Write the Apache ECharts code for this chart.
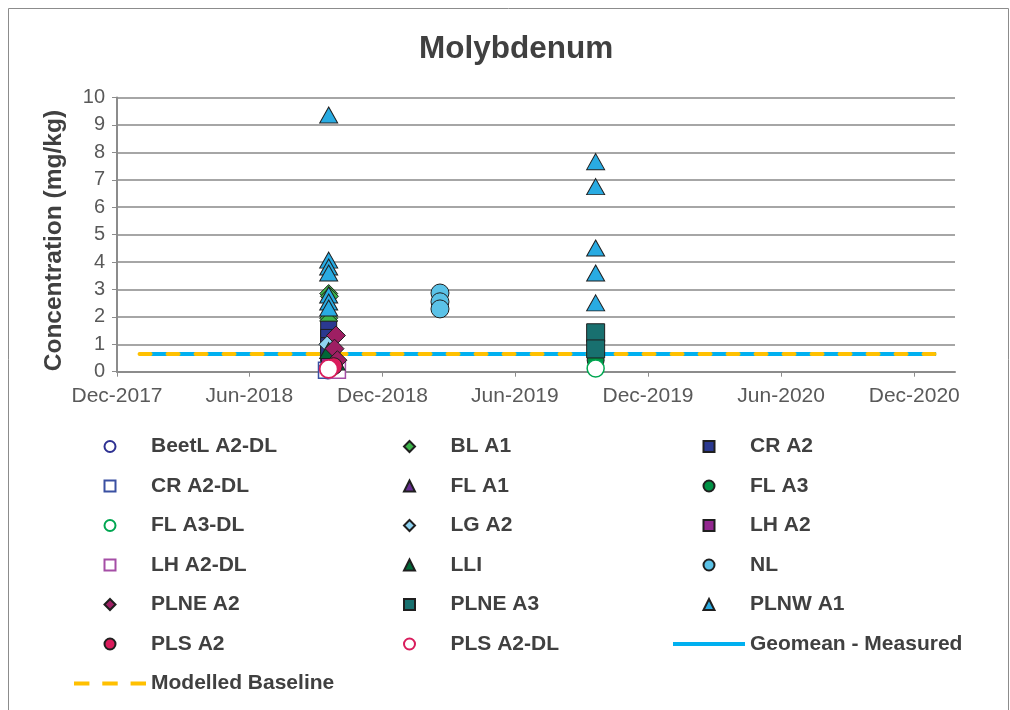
<!DOCTYPE html>
<html>
<head>
<meta charset="utf-8">
<script src="https://cdn.jsdelivr.net/npm/echarts@6/dist/echarts.min.js"></script>
<style>
html,body{margin:0;padding:0;background:#fff;}
#chart{width:1010px;height:710px;}
</style>
</head>
<body>
<div id="chart"></div>
<script>
// ---- Data ----
const xTickDates = ['2017-12-01','2018-06-01','2018-12-01','2019-06-01','2019-12-01','2020-06-01','2020-12-01'];
const xAxisMin = '2017-12-01';
const xAxisMax = '2021-01-26';
const yTicks = [0,1,2,3,4,5,6,7,8,9,10];

const beetlA2DL = [['2018-09-17', 0.05]];
const blA1      = [['2018-09-18', 2.85], ['2018-09-19', 2.75], ['2018-09-18', 1.95], ['2018-09-18', 1.85]];
const crA2      = [['2018-09-18', 1.55], ['2018-09-18', 1.25], ['2018-09-18', 0.95], ['2018-09-18', 0.65]];
const crA2DL    = [['2018-09-15', 0.05]];
const flA1      = [['2018-09-18', 0.5]];
const flA3      = [['2019-09-20', 0.42]];
const flA3DL    = [['2019-09-20', 0.12]];
const lgA2      = [['2018-09-17', 1.0]];
const lhA2      = [['2018-09-19', 0.3]];
const lhA2DL    = [['2018-09-30', 0.05]];
const lli       = [['2018-09-18', 0.77], ['2018-09-28', 0.35]];
const nl        = [['2019-02-18', 2.87], ['2019-02-18', 2.55], ['2019-02-18', 2.29]];
const plneA2    = [['2018-09-28', 1.32], ['2018-09-26', 0.84], ['2018-09-30', 0.42]];
const plneA3    = [['2019-09-20', 1.42], ['2019-09-20', 0.83]];
const plnwA1    = [['2018-09-18', 9.36], ['2018-09-18', 4.07], ['2018-09-18', 3.82], ['2018-09-18', 3.60],
                   ['2018-09-18', 2.80], ['2018-09-18', 2.54], ['2018-09-18', 2.32],
                   ['2019-09-20', 7.66], ['2019-09-20', 6.75], ['2019-09-20', 4.51], ['2019-09-20', 3.60], ['2019-09-20', 2.51]];
const plsA2     = [['2018-09-25', 0.2]];
const plsA2DL   = [['2018-09-18', 0.1]];
const geomeanMeasured  = [['2018-01-01', 0.65], ['2020-12-31', 0.65]];
const modelledBaseline = [['2018-01-01', 0.65], ['2020-12-31', 0.65]];

// ---- helpers ----
const MONTHS = ['Jan','Feb','Mar','Apr','May','Jun','Jul','Aug','Sep','Oct','Nov','Dec'];
const DAY = 86400000;
function parseDate(s){ const p = s.split('-').map(Number); return Date.UTC(p[0], p[1]-1, p[2]); }
function fmtDate(v){ const d = new Date(v + 15*DAY); return MONTHS[d.getUTCMonth()] + '-' + d.getUTCFullYear(); }
const toXY = arr => arr.map(d => [parseDate(d[0]), d[1]]);

const FONT = '"Liberation Sans", Arial, sans-serif';
const OUT = '#1f1f1f';

// legend icons (kept square so they are not stretched to the legend item width)
const ICONS = {
  circle: 'circle',
  rect: 'path://M0,0h10v10h-10z',
  diamond: 'path://M5,0L10,5L5,10L0,5z',
  triangle: 'path://M5,0L10,10L0,10z'
};
const legendIconOf = {};

function scatter(name, data, symbol, size, fill, border, bw){
  legendIconOf[name] = ICONS[symbol];
  return {
    name, type:'scatter', data: toXY(data), symbol, symbolSize: size, z: 3,
    itemStyle: { color: fill, borderColor: border, borderWidth: bw, opacity: 1 },
    emphasis: { disabled: true }
  };
}

const series = [
  scatter('BeetL A2-DL', beetlA2DL, 'circle', 17, '#ffffff', '#2e3192', 1.5),
  scatter('BL A1', blA1, 'diamond', 18, '#3db54a', OUT, 1),
  scatter('CR A2', crA2, 'rect', 16, '#2b3990', OUT, 1),
  scatter('CR A2-DL', crA2DL, 'rect', 16, '#ffffff', '#3a50a2', 1.5),
  scatter('FL A1', flA1, 'triangle', [18,16], '#662d91', OUT, 1),
  scatter('FL A3', flA3, 'circle', 17, '#009245', OUT, 1),
  scatter('FL A3-DL', flA3DL, 'circle', 17, '#ffffff', '#00a651', 1.5),
  scatter('LG A2', lgA2, 'diamond', 18, '#8fd3f1', OUT, 1),
  scatter('LH A2', lhA2, 'rect', 16, '#92278f', OUT, 1),
  scatter('LH A2-DL', lhA2DL, 'rect', 16, '#ffffff', '#a54ea6', 1.5),
  scatter('LLI', lli, 'triangle', [18,16], '#006838', OUT, 1),
  scatter('NL', nl, 'circle', 18, '#5bc2e7', OUT, 1),
  scatter('PLNE A2', plneA2, 'diamond', 19, '#9e1f63', OUT, 1),
  scatter('PLNE A3', plneA3, 'rect', 18, '#18706f', OUT, 1),
  scatter('PLNW A1', plnwA1, 'triangle', [18,16], '#29abe2', OUT, 1),
  scatter('PLS A2', plsA2, 'circle', 17, '#da1c5c', OUT, 1),
  scatter('PLS A2-DL', plsA2DL, 'circle', 18, '#ffffff', '#d91c5c', 1.8),
  {
    name:'Geomean - Measured', type:'line', data: toXY(geomeanMeasured), symbol:'none', z:1,
    lineStyle:{ color:'#00b0f0', width:4 }, itemStyle:{ color:'#00b0f0' }, emphasis:{disabled:true}
  },
  {
    name:'Modelled Baseline', type:'line', data: toXY(modelledBaseline), symbol:'none', z:1,
    lineStyle:{ color:'#ffc000', width:4, type:[11,17], cap:'round' }, itemStyle:{ color:'#ffc000' }, emphasis:{disabled:true}
  }
];

const SOLID_ICON  = 'path://M0,0h70v4h-70z';
const DASHED_ICON = 'path://M0,0h15v4h-15z M27.5,0h15v4h-15z M55,0h15v4h-15z';

function legendCol(left, names){
  return {
    orient:'vertical', left, top: 431, itemWidth: 72, itemHeight: 11, itemGap: 18.5,
    symbolKeepAspect: true,
    data: names.map(n => {
      if (n === 'Geomean - Measured') return { name: n, icon: SOLID_ICON, itemStyle: { color: '#00b0f0', borderWidth: 0 } };
      if (n === 'Modelled Baseline') return { name: n, icon: DASHED_ICON, itemStyle: { color: '#ffc000', borderWidth: 0 } };
      return { name: n, icon: legendIconOf[n] };
    }),
    selectedMode: false,
    textStyle:{ fontFamily: FONT, fontSize: 21, fontWeight:'bold', color:'#404040' }
  };
}

const chart = echarts.init(document.getElementById('chart'), null, {renderer:'canvas'});
chart.setOption({
  animation: false,
  backgroundColor: '#ffffff',
  textStyle: { fontFamily: FONT },
  title: {
    text: 'Molybdenum', left: 414, top: 28,
    textStyle: { fontFamily: FONT, fontSize: 31.5, fontWeight: 'bold', color: '#404040' }
  },
  graphic: [{
    type:'rect', shape:{ x:8.5, y:8.5, width:1000, height:720 },
    style:{ fill:'none', stroke:'#8c8c8c', lineWidth:1 }, silent:true
  }],
  legend: [
    legendCol(69,  ['BeetL A2-DL','CR A2-DL','FL A3-DL','LH A2-DL','PLNE A2','PLS A2','Modelled Baseline']),
    // this column has only marker icons, so its box starts at the marker's left edge
    legendCol(398, ['BL A1','FL A1','LG A2','LLI','PLNE A3','PLS A2-DL']),
    legendCol(668, ['CR A2','FL A3','LH A2','NL','PLNW A1','Geomean - Measured'])
  ],
  grid: { left: 117, right: 55, top: 97.5, bottom: 338.3 },
  xAxis: {
    type: 'value', min: parseDate(xAxisMin), max: parseDate(xAxisMax),
    axisLine: { show: true, lineStyle: { color: '#8c8c8c', width: 2 } },
    axisTick: { show: true, length: 5, customValues: xTickDates.map(parseDate), lineStyle: { color: '#8c8c8c', width: 1 } },
    axisLabel: { customValues: xTickDates.map(parseDate), formatter: fmtDate, fontSize: 21, color: '#595959', margin: 14, fontFamily: FONT },
    splitLine: { show: false }
  },
  yAxis: {
    type: 'value', min: yTicks[0], max: yTicks[yTicks.length-1], interval: 1,
    name: 'Concentration (mg/kg)', nameLocation: 'middle', nameRotate: 90, nameGap: 50,
    nameTextStyle: { fontFamily: FONT, fontSize: 24.5, fontWeight: 'bold', color: '#404040', padding: [0, 12, 0, 0] },
    axisLine: { show: true, lineStyle: { color: '#8c8c8c', width: 2 } },
    axisTick: { show: true, length: 5, lineStyle: { color: '#8c8c8c', width: 1 } },
    axisLabel: { fontSize: 20, color: '#595959', margin: 12, fontFamily: FONT },
    splitLine: { show: true, lineStyle: { color: '#a6a6a6', width: 2 } }
  },
  series
});
</script>
</body>
</html>
